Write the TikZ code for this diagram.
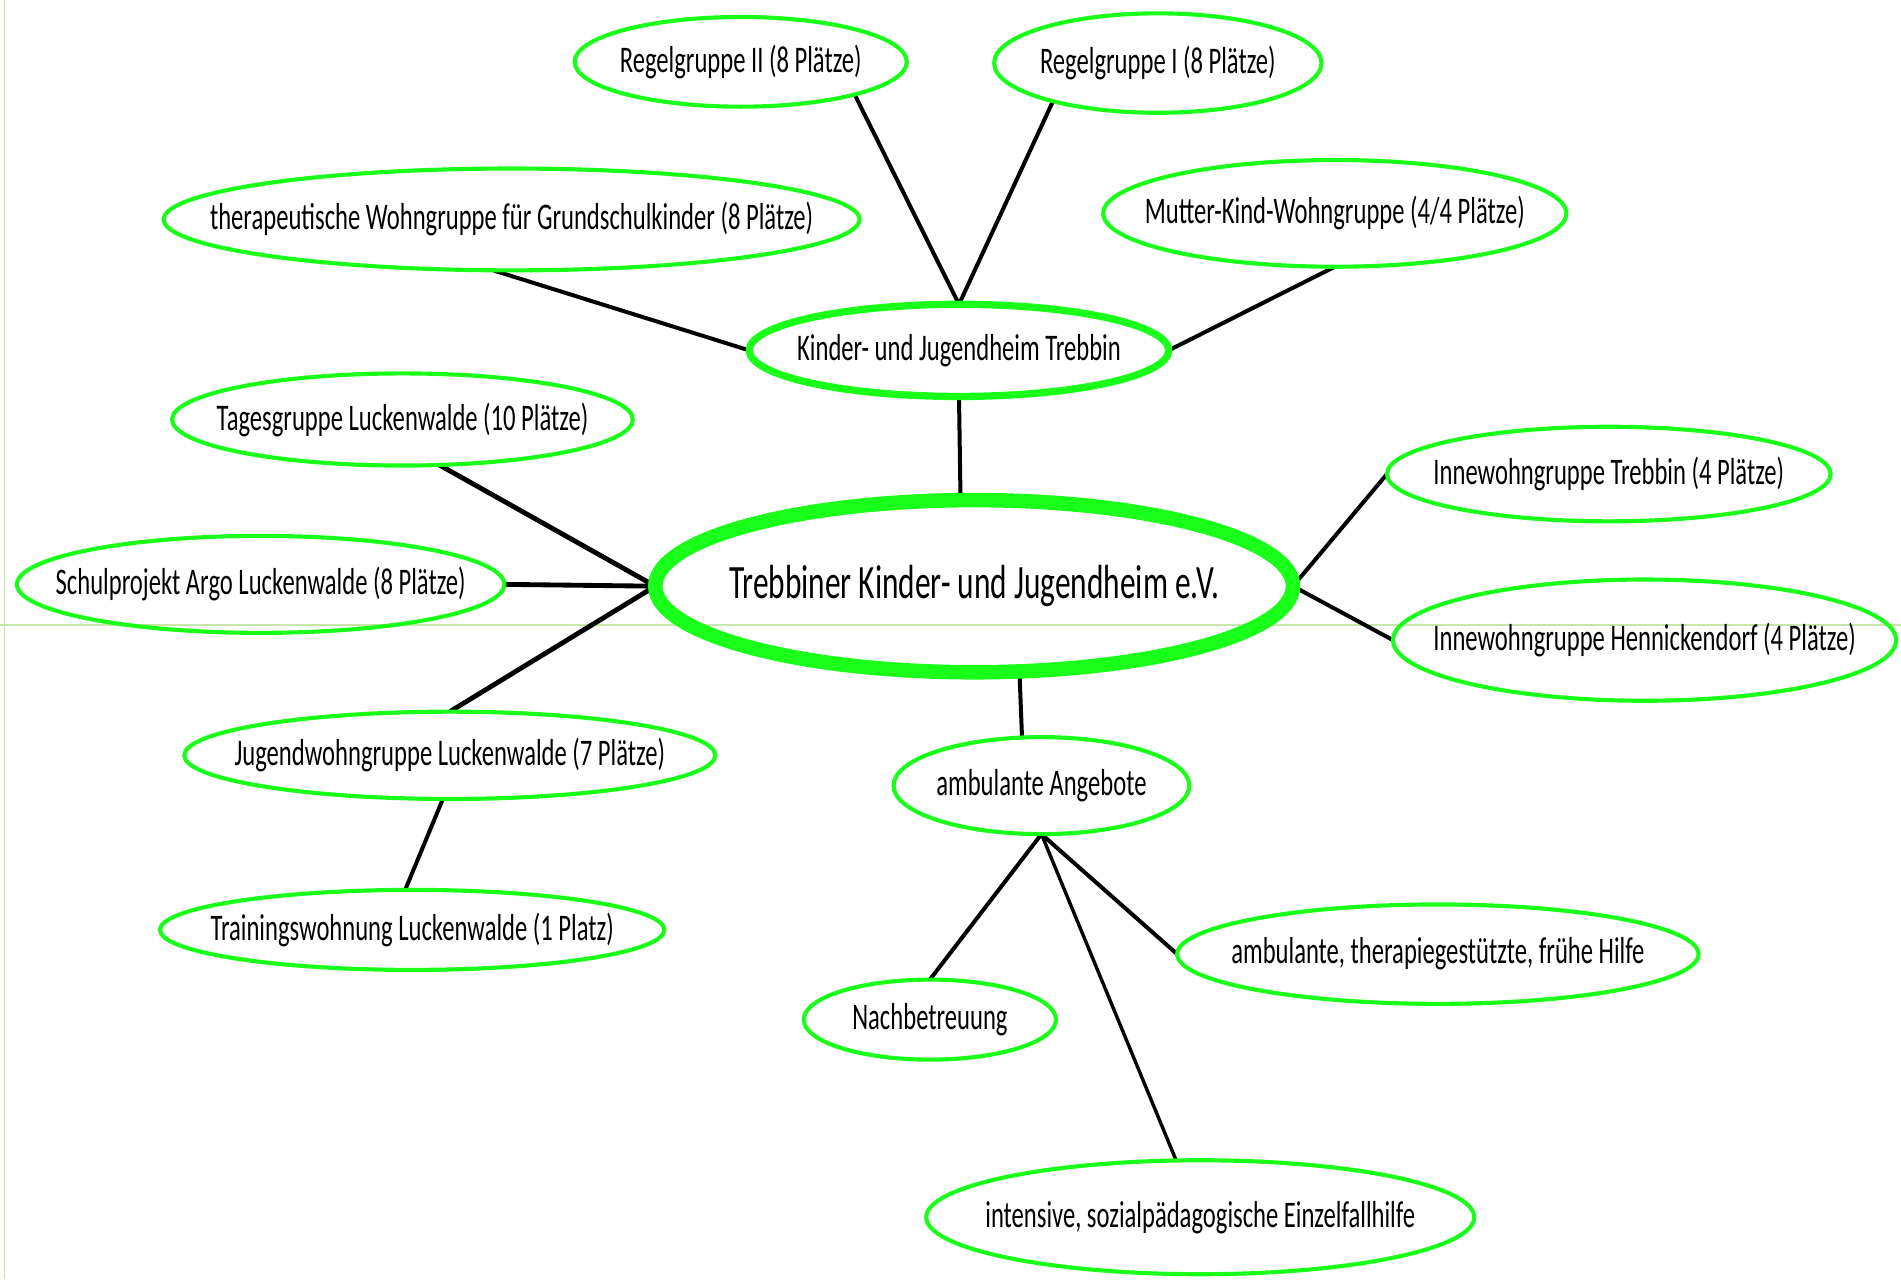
\documentclass[tikz,border=0pt]{standalone}
\usepackage{fontspec}
\setmainfont[FakeStretch=0.655]{Carlito}
\usetikzlibrary{shapes.geometric,backgrounds}
\definecolor{eg}{RGB}{25,255,25}
\definecolor{gridc}{RGB}{200,230,170}
\newcommand{\T}[1]{\makebox[0pt]{#1}}
\begin{document}
\begin{tikzpicture}[x=1pt,y=-1pt,
  bub/.style={ellipse, draw=eg, line width=3.4pt, inner sep=0pt, outer sep=0pt,
    text=black, font=\fontsize{31}{37}\selectfont},
  con/.style={line width=3.3pt, black},
  conthick/.style={line width=4pt, black},
  conthin/.style={line width=2.8pt, black},
  gridline/.style={gridc, line width=0.9pt},
]
\useasboundingbox (0,0) rectangle (1568,1055);

% nodes
\node[bub, minimum width=274pt, minimum height=74pt] (reg2) at (611,51) {\T{Regelgruppe II (8 Plätze)}};
\node[bub, minimum width=270pt, minimum height=82pt] (reg1) at (955,52) {\T{Regelgruppe I (8 Plätze)}};
\node[bub, minimum width=574pt, minimum height=84pt] (thera) at (422,181) {\T{therapeutische Wohngruppe für Grundschulkinder (8 Plätze)}};
\node[bub, minimum width=382pt, minimum height=88pt] (mutter) at (1101,176) {\T{Mutter-Kind-Wohngruppe (4/4 Plätze)}};
\node[bub, line width=6pt, minimum width=346pt, minimum height=76pt] (trebbin) at (791,289) {\T{Kinder- und Jugendheim Trebbin}};
\node[bub, minimum width=380pt, minimum height=76pt] (tages) at (332,346) {\T{Tagesgruppe Luckenwalde (10 Plätze)}};
\node[bub, minimum width=366pt, minimum height=78pt] (inneT) at (1327,391) {\T{Innewohngruppe Trebbin (4 Plätze)}};
\node[bub, minimum width=402pt, minimum height=80pt] (schul) at (215,482) {\T{Schulprojekt Argo Luckenwalde (8 Plätze)}};
\node[bub, line width=12pt, minimum width=526pt, minimum height=142pt,
      font=\fontsize{39.5}{46}\selectfont] (main) at (803.5,483.5) {\T{Trebbiner Kinder- und Jugendheim e.V.}};
\node[bub, minimum width=415pt, minimum height=100pt] (henn) at (1356.5,528) {\T{Innewohngruppe Hennickendorf (4 Plätze)}};
\node[bub, minimum width=438pt, minimum height=72pt] (jugend) at (371,623) {\T{Jugendwohngruppe Luckenwalde (7 Plätze)}};
\node[bub, minimum width=244pt, minimum height=80pt] (amb) at (859,648) {\T{ambulante Angebote}};
\node[bub, minimum width=416pt, minimum height=66pt] (train) at (340,767) {\T{Trainingswohnung Luckenwalde (1 Platz)}};
\node[bub, minimum width=430pt, minimum height=82pt] (thgest) at (1186,787) {\T{ambulante, therapiegestützte, frühe Hilfe}};
\node[bub, minimum width=208pt, minimum height=66pt] (nach) at (767,841) {\T{Nachbetreuung}};
\node[bub, minimum width=452pt, minimum height=94pt] (intens) at (990,1004) {\T{intensive, sozialpädagogische Einzelfallhilfe}};

\begin{scope}[on background layer]
  \fill[white] (0,0) rectangle (1568,1055);
  \draw[gridline] (0,515.5) -- (1568,515.5);
  \draw[gridline] (4,0) -- (4,1055);
  % connectors
  \draw[con] (reg2.-16) -- (trebbin.north);
  \draw[con] (reg1.200) -- (trebbin.north);
  \draw[con] (thera.-110) -- (trebbin.west);
  \draw[con] (mutter.south) -- (trebbin.east);
  \draw[con] (trebbin.south) -- (main.99);
  \draw[conthick] (tages.-51) -- (main.west);
  \draw[conthick] (schul.east) -- (main.west);
  \draw[conthick] (jugend.north) -- (main.west);
  \draw[con] (main.east) -- (inneT.west);
  \draw[con] (main.east) -- (henn.west);
  \draw[con] (main.-62.6) -- (amb.112);
  \draw[con] (jugend.-99) -- (train.100);
  \draw[con] (amb.south) -- (nach.north);
  \draw[con] (amb.south) -- (thgest.west);
  \draw[conthin] (amb.south) -- (intens.113);
\end{scope}
\end{tikzpicture}
\end{document}
